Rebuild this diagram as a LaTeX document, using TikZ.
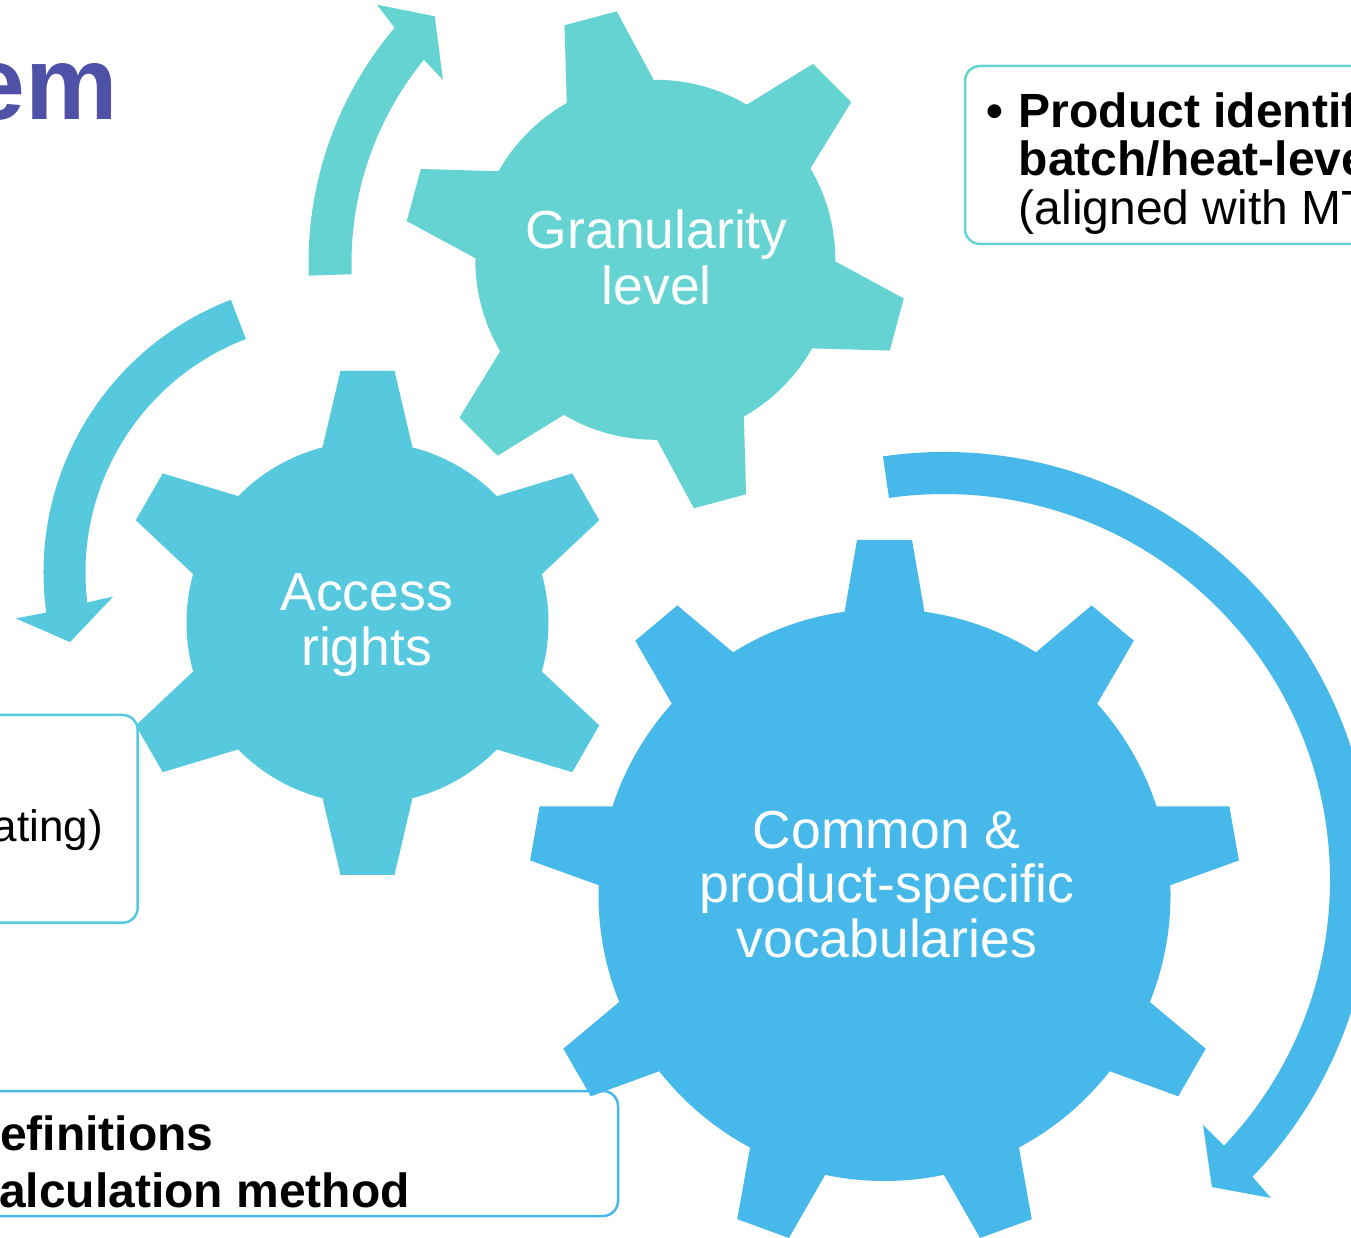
\documentclass[tikz,border=0pt]{standalone}
\usepackage{fontspec}
\setmainfont{Liberation Sans}
\definecolor{cG}{RGB}{102,211,211}
\definecolor{cA}{RGB}{86,201,222}
\definecolor{cC}{RGB}{71,184,234}
\definecolor{cT}{RGB}{79,81,166}
\begin{document}
\begin{tikzpicture}[x=1pt,y=1pt,
  boxline/.style={fill=white,line width=2.5pt,rounded corners=15pt},
  gearlabel/.style={text=white,align=center,inner sep=0pt},
  boxtext/.style={inner sep=0pt,anchor=base west,font=\fontsize{48}{50}\selectfont},
  boxbold/.style={boxtext,font=\fontsize{48}{50}\selectfont\bfseries}]
\useasboundingbox (0,0) rectangle (1351,1237);

% title fragment
\node[inner sep=0pt,anchor=base east,text=cT,font=\fontsize{104}{110}\selectfont\bfseries] (title) at (118.5,1117) {em};

% boxes
\draw[boxline,draw=cG] (965,993) rectangle (1390,1171);
\draw[boxline,draw=cA] (-40,314.3) rectangle (137.7,522);
\draw[boxline,draw=cC] (-40,21) rectangle (618,146);

% gear: Granularity level
\fill[cG] (655.3,977.2) circle[radius=180pt];
\foreach \a in {45,105,...,345}{
  \fill[cG,shift={(655.3,977.2)},rotate=\a] (160pt,-48.4pt) -- (250pt,-27pt) -- (250pt,27pt) -- (160pt,48.4pt) -- cycle;
}
% gear: Access rights
\fill[cA] (367.5,614.2) circle[radius=181pt];
\foreach \a in {30,90,...,330}{
  \fill[cA,shift={(367.5,614.2)},rotate=\a] (160pt,-48.6pt) -- (252pt,-27pt) -- (252pt,27pt) -- (160pt,48.6pt) -- cycle;
}
% gear: Common vocabularies
\fill[cC] (884.5,342) circle[radius=286pt];
\foreach \a in {10,50,...,330}{
  \fill[cC,shift={(884.5,342)},rotate=\a] (260pt,-44pt) -- (355pt,-27.5pt) -- (355pt,27.5pt) -- (260pt,44pt) -- cycle;
}

% circular arrows
\begin{scope}[shift={(673,974)}]
\fill[cG] (182:364.5pt) arc[start angle=182,end angle=139.8,radius=364.5pt]
  -- (138.9:393pt) -- (134:343pt) -- (141.5:294pt) -- (140.8:321.5pt)
  arc[start angle=140.8,end angle=182,radius=321.5pt] -- cycle;
\end{scope}
\begin{scope}[shift={(335.5,664.6)}]
\fill[cA] (111:292pt) arc[start angle=111,end angle=187.9,radius=292pt]
  -- (188.2:323pt) -- (194.7:274.5pt) -- (186.2:223.5pt) -- (186.9:250pt)
  arc[start angle=186.9,end angle=111,radius=250pt] -- cycle;
\end{scope}
\begin{scope}[shift={(944,357)}]
\fill[cC] (98.2:428pt) arc[start angle=98.2,end angle=-43.9,radius=428pt]
  -- (-44.2:456pt) -- (-48.9:407.5pt) -- (-43.4:356.5pt) -- (-43.5:386pt)
  arc[start angle=-43.5,end angle=98.2,radius=386pt] -- cycle;
\end{scope}

% gear labels
\node[gearlabel,font=\fontsize{53.5}{56}\selectfont] (lblG) at (656.8,980) {Granularity\\level};
\node[gearlabel,font=\fontsize{53.5}{54.3}\selectfont] (lblA) at (366.7,611.7) {Access\\rights};
\node[gearlabel,font=\fontsize{53.5}{54.5}\selectfont] (lblC) at (886.7,352.5) {Common \&\\product-specific\\vocabularies};

% box texts
\node[inner sep=0pt,anchor=base,font=\fontsize{48}{50}\selectfont\bfseries] (bul) at (995,1109.7) {•};
\node[boxbold] (tr1) at (1018.5,1109.7) {Product identif};
\node[boxbold] (tr2) at (1018.5,1061) {batch/heat-leve};
\node[boxtext] (tr3) at (1018.5,1012.5) {(aligned with MT};
\node[inner sep=0pt,anchor=base east,font=\fontsize{44}{46}\selectfont] (lb1) at (103,395.3) {ating)};
\node[boxbold] (bb1) at (0,87) {efinitions};
\node[boxbold] (bb2) at (-1,30) {alculation method};
\end{tikzpicture}
\end{document}
